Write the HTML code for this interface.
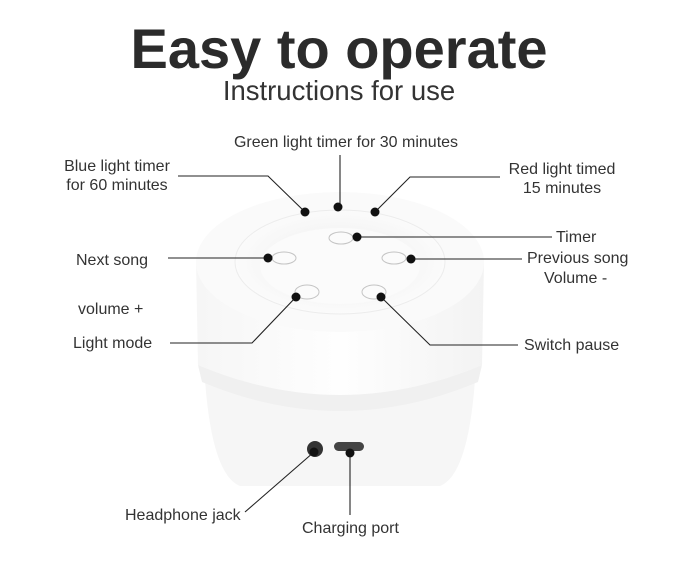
<!DOCTYPE html>
<html><head><style>
body{margin:0;background:#fff;}
svg{display:block;font-family:"Liberation Sans",sans-serif;}
</style></head><body>
<svg width="680" height="585" viewBox="0 0 680 585">
<defs>
<radialGradient id="top" cx="0.5" cy="0.5" r="0.5"><stop offset="0.6" stop-color="#f5f5f5"/><stop offset="1" stop-color="#fbfbfb"/></radialGradient>
<linearGradient id="side" x1="0" x2="1"><stop offset="0" stop-color="#f6f6f6"/><stop offset="0.5" stop-color="#fefefe"/><stop offset="1" stop-color="#f3f3f3"/></linearGradient>
</defs>
<rect width="680" height="585" fill="#fff"/>
<text x="339" y="68" text-anchor="middle" font-size="56" font-weight="bold" fill="#2b2b2b">Easy to operate</text>
<text x="339" y="100" text-anchor="middle" font-size="27.5" fill="#333">Instructions for use</text>
<path d="M205 380 Q212 475 240 486 L440 486 Q468 475 475 380 Z" fill="#f6f6f6"/>
<path d="M196 262 L198 365 Q340 425 482 365 L484 262 Z" fill="url(#side)"/>
<path d="M198 365 Q340 425 482 365 L478 382 Q340 440 202 382Z" fill="#f0f0f0"/>
<ellipse cx="340" cy="262" rx="144" ry="70" fill="#fafafa"/>
<ellipse cx="340" cy="262" rx="105" ry="52" fill="url(#top)" stroke="#ececec"/>
<ellipse cx="340" cy="266" rx="80" ry="38" fill="#fbfbfb"/>
<g fill="none" stroke="#c4c4c4" stroke-width="1">
<ellipse cx="341" cy="238" rx="12" ry="6"/><ellipse cx="284" cy="258" rx="12" ry="6"/><ellipse cx="394" cy="258" rx="12" ry="6"/><ellipse cx="307" cy="292" rx="12" ry="7"/><ellipse cx="374" cy="292" rx="12" ry="7"/>
</g>
<circle cx="315" cy="449" r="8" fill="#333"/>
<rect x="334" y="442" width="30" height="9" rx="4.5" fill="#444"/>
<g stroke="#222" stroke-width="1.1" fill="none">
<polyline points="178,176 268,176 305,212"/>
<polyline points="340,155 340,206"/>
<polyline points="500,177 410,177 375,212"/>
<polyline points="357,237 552,237"/>
<polyline points="168,258 268,258"/>
<polyline points="411,259 522,259"/>
<polyline points="170,343 252,343 296,297"/>
<polyline points="381,297 430,345 518,345"/>
<polyline points="314,452 245,512"/>
<polyline points="350,453 350,515"/>
</g>
<g fill="#111">
<circle cx="305" cy="212" r="4.5"/><circle cx="338" cy="207" r="4.5"/><circle cx="375" cy="212" r="4.5"/>
<circle cx="357" cy="237" r="4.5"/><circle cx="268" cy="258" r="4.5"/><circle cx="411" cy="259" r="4.5"/>
<circle cx="296" cy="297" r="4.5"/><circle cx="381" cy="297" r="4.5"/>
<circle cx="314" cy="452" r="4.5"/><circle cx="350" cy="453" r="4.5"/>
</g>
<g font-size="16" fill="#333">
<text x="346" y="147" text-anchor="middle">Green light timer for 30 minutes</text>
<text x="117" y="171" text-anchor="middle">Blue light timer</text>
<text x="117" y="190" text-anchor="middle">for 60 minutes</text>
<text x="562" y="174" text-anchor="middle">Red light timed</text>
<text x="562" y="193" text-anchor="middle">15 minutes</text>
<text x="556" y="242">Timer</text>
<text x="76" y="265">Next song</text>
<text x="527" y="263">Previous song</text>
<text x="544" y="283">Volume -</text>
<text x="78" y="314">volume +</text>
<text x="73" y="348">Light mode</text>
<text x="524" y="350">Switch pause</text>
<text x="125" y="520">Headphone jack</text>
<text x="302" y="533">Charging port</text>
</g>
</svg>
</body></html>
